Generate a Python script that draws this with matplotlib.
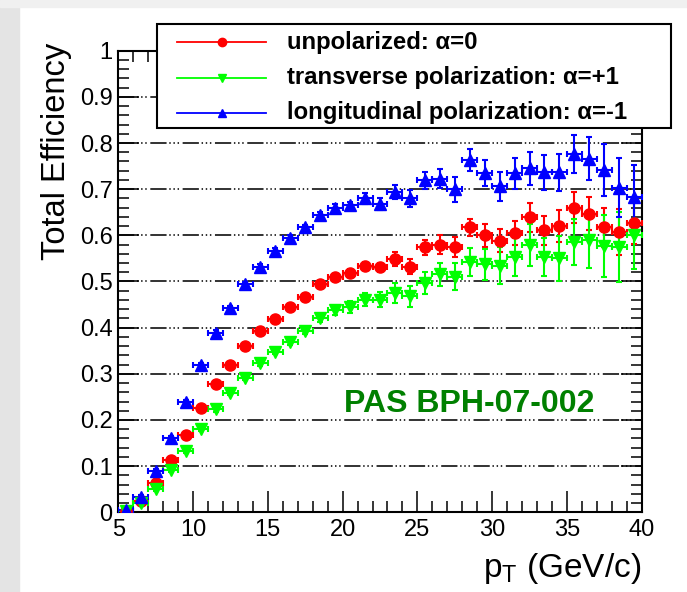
import matplotlib
matplotlib.use("Agg")
import matplotlib.pyplot as plt
import numpy as np
from matplotlib.lines import Line2D
from matplotlib.patches import Rectangle
from matplotlib.ticker import MultipleLocator, FuncFormatter

plt.rcParams['font.family'] = 'Liberation Sans'
plt.rcParams['mathtext.default'] = 'regular'

# bin centres (1 GeV bins from 5 to 40)
pt = np.arange(5.5, 40, 1.0)
pt_err = 0.5

eff_unpol = [0.003, 0.024, 0.064, 0.113, 0.167, 0.227, 0.279, 0.320, 0.360, 0.392,
             0.419, 0.444, 0.467, 0.494, 0.509, 0.519, 0.534, 0.531, 0.548, 0.532,
             0.574, 0.580, 0.575, 0.617, 0.600, 0.588, 0.605, 0.639, 0.611, 0.620,
             0.660, 0.647, 0.617, 0.607, 0.627]
err_unpol = [0.002, 0.003, 0.004, 0.004, 0.004, 0.005, 0.005, 0.005, 0.005, 0.005,
             0.005, 0.006, 0.006, 0.006, 0.007, 0.008, 0.009, 0.010, 0.015, 0.016,
             0.016, 0.020, 0.022, 0.019, 0.025, 0.025, 0.027, 0.031, 0.031, 0.034,
             0.034, 0.035, 0.043, 0.050, 0.045]

eff_trans = [0.003, 0.021, 0.050, 0.092, 0.133, 0.181, 0.223, 0.259, 0.292, 0.323,
             0.348, 0.369, 0.393, 0.420, 0.438, 0.444, 0.461, 0.461, 0.475, 0.468,
             0.497, 0.516, 0.510, 0.542, 0.537, 0.534, 0.553, 0.579, 0.553, 0.550,
             0.586, 0.589, 0.577, 0.575, 0.600]
err_trans = [0.002, 0.003, 0.004, 0.004, 0.004, 0.005, 0.005, 0.005, 0.005, 0.006,
             0.006, 0.006, 0.007, 0.008, 0.010, 0.013, 0.014, 0.016, 0.022, 0.023,
             0.023, 0.025, 0.029, 0.030, 0.034, 0.040, 0.041, 0.045, 0.041, 0.049,
             0.050, 0.060, 0.067, 0.076, 0.072]

eff_long = [0.004, 0.034, 0.090, 0.161, 0.238, 0.319, 0.389, 0.443, 0.494, 0.532,
            0.566, 0.594, 0.617, 0.644, 0.660, 0.665, 0.680, 0.668, 0.694, 0.680,
            0.719, 0.723, 0.700, 0.763, 0.735, 0.706, 0.734, 0.745, 0.737, 0.737,
            0.776, 0.766, 0.741, 0.703, 0.683]
err_long = [0.002, 0.003, 0.004, 0.004, 0.005, 0.005, 0.005, 0.005, 0.005, 0.005,
            0.006, 0.006, 0.006, 0.007, 0.007, 0.008, 0.012, 0.013, 0.016, 0.019,
            0.018, 0.020, 0.027, 0.023, 0.028, 0.032, 0.033, 0.036, 0.038, 0.040,
            0.042, 0.046, 0.056, 0.064, 0.069]

labels = ['unpolarized: α=0', 'transverse polarization: α=+1', 'longitudinal polarization: α=-1']
colors = ['#ff0000', '#00ff00', '#0000ff']
markers = ['o', 'v', '^']

W, H = 687, 592
fig = plt.figure(figsize=(W / 100, H / 100), dpi=100, facecolor='white')
# grey frame of the slide
fig.patches.append(Rectangle((0, 0), 19 / W, 1, transform=fig.transFigure, color='#e4e4e4', zorder=0))
fig.patches.append(Rectangle((0, 1 - 7 / H), 1, 7 / H, transform=fig.transFigure, color='#f0f0f0', zorder=0))

ax = fig.add_axes([118.3 / W, 1 - 512.3 / H, (641.7 - 118.3) / W, (512.3 - 50.7) / H])

ax.set_axisbelow(True)
ax.grid(axis='y', which='major', color='#222222', lw=1.3, dashes=(9, 1.5, 0.8, 1.5, 0.8, 1.5, 0.8, 2))

series = [(eff_unpol, err_unpol), (eff_trans, err_trans), (eff_long, err_long)]
for (eff, err), c, m in zip(series, colors, markers):
    ax.errorbar(pt, eff, yerr=err, xerr=pt_err, fmt=m, color=c, ms=8, mec=c,
                elinewidth=1.5, capsize=2.5, capthick=1.5, zorder=3)

ax.set_xlim(5, 40)
ax.set_ylim(0, 1)
ax.xaxis.set_major_locator(MultipleLocator(5))
ax.xaxis.set_minor_locator(MultipleLocator(1))
ax.yaxis.set_major_locator(MultipleLocator(0.1))
ax.yaxis.set_minor_locator(MultipleLocator(0.02))
ax.yaxis.set_major_formatter(FuncFormatter(lambda v, p: '%g' % round(v, 2)))
ax.tick_params(which='both', direction='in', top=True, right=True, labelsize=17, width=1.1)
ax.tick_params(which='major', length=15)
ax.tick_params(which='minor', length=8)
ax.tick_params(axis='y', pad=4)
ax.tick_params(axis='x', pad=5)
for s in ax.spines.values():
    s.set_linewidth(1.5)

ax.text(20.1, 0.218, 'PAS BPH-07-002', color='#008000', fontsize=23, fontweight='bold')

fig.text(56 / W, 1 - 43 / H, 'Total Efficiency', rotation=90, ha='center', va='top', fontsize=23.5)
fig.text(641 / W, 1 - 577 / H, r'p$_{\mathregular{T}}$ (GeV/c)', ha='right', va='baseline', fontsize=24)

# legend box drawn in pixel positions of the figure
fig.add_artist(Rectangle((157 / W, 1 - 128 / H), (671 - 157) / W, (128 - 24) / H,
                         transform=fig.transFigure, facecolor='white', edgecolor='black',
                         lw=1.5, zorder=5))
row_y = [42, 77.5, 113]
for yy, lab, c, m in zip(row_y, labels, colors, markers):
    fig.add_artist(Line2D([177 / W, 222 / W, 266 / W], [1 - yy / H] * 3, transform=fig.transFigure,
                          color=c, lw=1.3, marker=m, ms=6, markevery=[1], zorder=6))
    fig.text(287 / W, 1 - yy / H, lab, ha='left', va='center', fontsize=17.2,
             fontweight='bold', zorder=6)

fig.savefig('out.png', dpi=100)
